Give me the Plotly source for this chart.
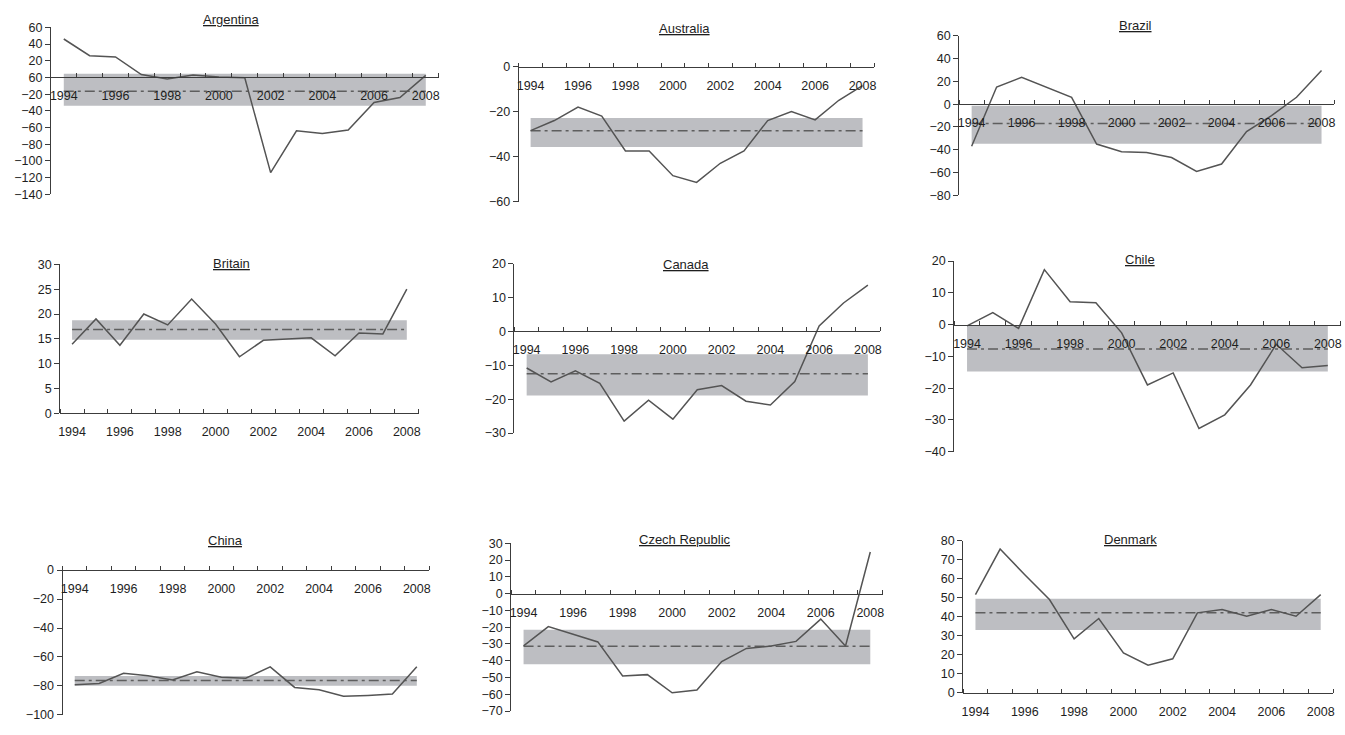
import plotly.graph_objects as go

# ---- data -------------------------------------------------------------
years = list(range(1994, 2009))
year_ticks = years[::2]
year_labels = [str(y) for y in year_ticks]

countries = ["Argentina", "Australia", "Brazil",
             "Britain", "Canada", "Chile",
             "China", "Czech Republic", "Denmark"]

argentina = [46, 26, 24.5, 3.5, -2, 3, 0.5, -0.5, -114, -64, -67, -63, -30, -24, 2.5]
australia = [-28.5, -24, -18, -22, -37.5, -37.5, -48.5, -51.5, -43, -37.5, -24, -20, -23.7, -15, -8.5]
brazil = [-37, 15, 23.5, 14.5, 6, -35, -41.7, -42.5, -46.8, -59, -52.5, -24, -10, 6, 29.5]
britain = [13.9, 19, 13.7, 20, 17.8, 23, 18, 11.4, 14.7, 14.9, 15.2, 11.6, 16.2, 16, 25]
canada = [-10.8, -14.9, -11.6, -15.3, -26.5, -20.3, -25.9, -17.2, -16, -20.6, -21.7, -14.8, 1.6, 8.4, 13.7]
chile = [-0.4, 3.8, -1.2, 17.3, 7.2, 6.9, -2.6, -19, -15.2, -32.7, -28.4, -19, -6.2, -13.6, -12.9]
china = [-79.2, -78.3, -71.3, -72.9, -75.8, -70.2, -74, -74.7, -66.8, -81, -82.6, -87.1, -86.5, -85.6, -66.8]
czech = [-31.2, -19.7, -24.2, -28.8, -49.1, -48.3, -59.1, -57.5, -40.5, -32.7, -31.2, -28.5, -15.2, -31.2, 24.8]
denmark = [51.7, 75.7, 62.2, 49.1, 28.4, 39.1, 21, 14.5, 17.9, 42.1, 43.8, 40.3, 43.8, 40.3, 51.7]

series = [argentina, australia, brazil, britain, canada, chile, china, czech, denmark]

# long-run average and its band, per country
mean_level = [-16.5, -28.5, -17, 16.9, -12.5, -7.7, -76.3, -31.4, 42.2]
band_low = [-34, -35.8, -34.8, 14.8, -18.9, -14.8, -79.9, -42.1, 33.1]
band_high = [4.5, -22.9, -1.5, 18.75, -6.75, -0.2, -73.1, -21.5, 49.5]

# y-axis extent and tick step per country
y_min = [-140, -60, -80, 0, -30, -40, -100, -70, 0]
y_max = [60, 0, 60, 30, 20, 20, 0, 30, 80]
y_step = [20, 20, 20, 5, 10, 10, 20, 10, 10]

# Argentina's printed axis labels (the zero line carries "60")
argentina_ticks = [-140, -120, -100, -80, -60, -40, -20, 0, 20, 40, 60]
argentina_tick_text = ["−140", "−120", "−100", "−80", "−60", "−40", "−20", "60", "20", "40", "60"]

# ---- layout geometry (pixels: left, right, top, bottom) ---------------
W, H = 1345, 735
boxes = [
    (49, 438, 20.7, 191),
    (518.3, 875, 60.7, 198.3),
    (960, 1336, 29.3, 192),
    (58.3, 418, 262.3, 414.3),
    (514, 880.7, 261.7, 434.3),
    (955, 1342.7, 259, 453.3),
    (60.7, 428.3, 574, 721.7),
    (510.7, 883.3, 546.7, 717.7),
    (964, 1335, 544.3, 699),
]
title_pos = [
    (230, 12.7), (685, 21.7), (1136.7, 19),
    (230, 261.7), (686, 262.7), (1141.7, 257.7),
    (224, 544.3), (685, 543.3), (1131.7, 543.3),
]

LINE = "#545454"
AXIS = "#3c3c3c"
BAND = "#bdbec2"
MEAN = "#5e5e5e"
FONT = "Liberation Sans, Arial, sans-serif"

fig = go.Figure()
layout = {}
annotations = []

for i, name in enumerate(countries):
    n = i + 1
    xr = "x" if n == 1 else f"x{n}"
    yr = "y" if n == 1 else f"y{n}"
    xkey = "xaxis" if n == 1 else f"xaxis{n}"
    ykey = "yaxis" if n == 1 else f"yaxis{n}"

    x0, x1 = years[0], years[-1]
    # shaded band
    fig.add_trace(go.Scatter(
        x=[x0, x1, x1, x0, x0],
        y=[band_low[i], band_low[i], band_high[i], band_high[i], band_low[i]],
        fill="toself", fillcolor=BAND, mode="lines", line=dict(width=0),
        hoverinfo="skip", xaxis=xr, yaxis=yr))
    # average level
    fig.add_trace(go.Scatter(
        x=[x0, x1], y=[mean_level[i], mean_level[i]], mode="lines",
        line=dict(color=MEAN, width=1.5, dash="10px,4px,3px,4px"),
        hoverinfo="skip", xaxis=xr, yaxis=yr))
    # yearly values
    fig.add_trace(go.Scatter(
        x=years, y=series[i], mode="lines",
        line=dict(color=LINE, width=1.5), name=name,
        xaxis=xr, yaxis=yr))

    left, right, top, bottom = boxes[i]
    d0, d1 = 1 - bottom / H, 1 - top / H
    lo, hi = y_min[i], y_max[i]
    # category axis crosses the value axis at zero
    cross = d0 + (0 - lo) / (hi - lo) * (d1 - d0)

    layout[xkey] = dict(
        domain=[left / W, right / W], range=[years[0] - 0.5, years[-1] + 0.5],
        anchor="free", position=cross, showline=True, linecolor=AXIS, linewidth=1,
        tickmode="array", tickvals=year_ticks, ticktext=year_labels,
        ticks="outside", ticklen=7, tickcolor="rgba(0,0,0,0)",
        showgrid=False, zeroline=False,
        tickfont=dict(family=FONT, size=12.5, color="#1e1e1e"),
        minor=dict(tickmode="array", tickvals=[y - 0.5 for y in years] + [years[-1] + 0.5],
                   ticks="inside", ticklen=4, tickcolor=AXIS, tickwidth=1, showgrid=False),
        fixedrange=True,
    )
    yax = dict(
        domain=[d0, d1], range=[lo, hi], anchor=xr, showline=True,
        linecolor=AXIS, linewidth=1, ticks="outside", ticklen=5, tickcolor=AXIS,
        showgrid=False, zeroline=False,
        tickfont=dict(family=FONT, size=12.5, color="#1e1e1e"),
        fixedrange=True,
    )
    if n == 1:
        yax.update(tickmode="array", tickvals=argentina_ticks, ticktext=argentina_tick_text)
    else:
        yax.update(tickmode="linear", tick0=lo, dtick=y_step[i])
    layout[ykey] = yax

    tx, ty = title_pos[i]
    annotations.append(dict(
        text=f"<u>{name}</u>", x=tx / W, y=1 - ty / H, xref="paper", yref="paper",
        xanchor="center", yanchor="middle", showarrow=False,
        font=dict(family=FONT, size=13, color="#1e1e1e")))

fig.update_layout(
    width=W, height=H, margin=dict(l=0, r=0, t=0, b=0),
    paper_bgcolor="white", plot_bgcolor="white", showlegend=False,
    font=dict(family=FONT, size=12.5, color="#1e1e1e"),
    annotations=annotations, **layout)

fig.write_html("out.html")
